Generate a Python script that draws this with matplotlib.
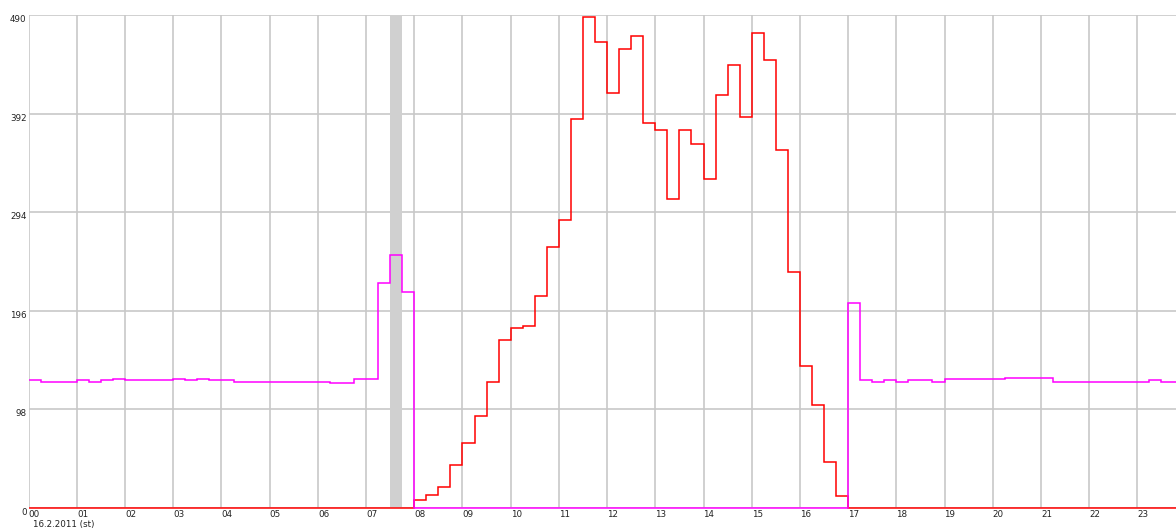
import numpy as np
import matplotlib
matplotlib.use("Agg")
import matplotlib.pyplot as plt

# ---- data (quarter-hour values, one row per hour) ----
red_values = [
    0, 0, 0, 0,          # 00
    0, 0, 0, 0,          # 01
    0, 0, 0, 0,          # 02
    0, 0, 0, 0,          # 03
    0, 0, 0, 0,          # 04
    0, 0, 0, 0,          # 05
    0, 0, 0, 0,          # 06
    0, 0, 0, 0,          # 07
    8, 13, 21, 42,       # 08
    64, 91, 125, 167,    # 09
    179, 181, 211, 259,  # 10
    286, 387, 488, 463,  # 11
    412, 456, 469, 383,  # 12
    376, 307, 376, 362,  # 13
    327, 410, 440, 389,  # 14
    472, 445, 356, 234,  # 15
    141, 102, 45, 12,    # 16
    0, 0, 0, 0,          # 17
    0, 0, 0, 0,          # 18
    0, 0, 0, 0,          # 19
    0, 0, 0, 0,          # 20
    0, 0, 0, 0,          # 21
    0, 0, 0, 0,          # 22
    0, 0, 0, 0,          # 23
]

magenta_values = [
    126.7, 125.3, 125.3, 125.3,  # 00
    126.7, 125.3, 126.7, 128.0,  # 01
    126.7, 126.7, 126.7, 126.7,  # 02
    128.0, 126.7, 128.0, 126.7,  # 03
    126.7, 125.3, 125.3, 125.3,  # 04
    125.3, 125.3, 125.3, 125.3,  # 05
    125.3, 124.0, 124.0, 128.0,  # 06
    128.0, 223.0, 251.0, 215.0,  # 07
    0, 0, 0, 0,                  # 08
    0, 0, 0, 0,                  # 09
    0, 0, 0, 0,                  # 10
    0, 0, 0, 0,                  # 11
    0, 0, 0, 0,                  # 12
    0, 0, 0, 0,                  # 13
    0, 0, 0, 0,                  # 14
    0, 0, 0, 0,                  # 15
    0, 0, 0, 0,                  # 16
    204.0, 126.7, 125.3, 126.7,  # 17
    125.3, 126.7, 126.7, 125.3,  # 18
    128.0, 128.0, 128.0, 128.0,  # 19
    128.0, 129.3, 129.3, 129.3,  # 20
    129.3, 125.3, 125.3, 125.3,  # 21
    125.3, 125.3, 125.3, 125.3,  # 22
    125.3, 126.7, 125.3, 125.3,  # 23
]

hour_labels = ["%02d" % h for h in range(24)]
y_ticks = [0, 98, 196, 294, 392, 490]
date_label = "16.2.2011 (st)"
highlight_span = (7.5, 7.75)

# ---- figure ----
plt.rcParams['font.family'] = ['DejaVu Sans']
fig = plt.figure(figsize=(11.76, 5.30), dpi=100)
W, H = 1176, 530
x0_px, top_px, bot_px = 28.7, 15.0, 507.7
ax = fig.add_axes([x0_px / W, (H - bot_px) / H, 1 - x0_px / W, (bot_px - top_px) / H])
px_per_hour = 48.2
ax.set_xlim(0, (W - x0_px) / px_per_hour)
ax.set_ylim(0, 490)

for s in ax.spines.values():
    s.set_visible(False)

grid_color = '#c8c8c8'
ax.set_axisbelow(True)
ax.set_xticks(range(24))
ax.set_xticklabels(hour_labels)
ax.set_yticks(y_ticks)
ax.set_yticklabels([str(v) for v in y_ticks])
ax.grid(True, color=grid_color, linewidth=1.2)
ax.tick_params(length=0, labelsize=6.3, colors='#222222', pad=1.5)
for lbl in ax.get_xticklabels():
    lbl.set_ha('left')
for lbl in ax.get_yticklabels():
    lbl.set_va('top')

ax.axvspan(*highlight_span, color='#d0d0d0', zorder=1, linewidth=0)

edges = np.arange(len(red_values) + 1) * 0.25
ax.stairs(red_values, edges, baseline=None, color='#ff0000', linewidth=1.1,
          zorder=3, clip_on=False)
ax.stairs(magenta_values, edges, baseline=None, color='#ff00ff', linewidth=1.1,
          zorder=4, clip_on=False)

fig.text(33 / W, 1 - 525 / H, date_label, fontsize=6.3, color='#222222',
         ha='left', va='center')

fig.savefig('out.png', dpi=100)
